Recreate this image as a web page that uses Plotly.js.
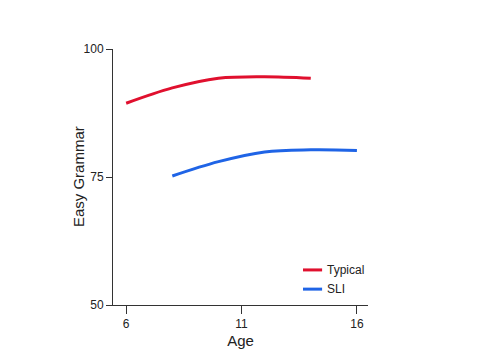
<!DOCTYPE html>
<html>
<head>
<meta charset="utf-8">
<script src="https://cdn.plot.ly/plotly-3.0.1.min.js"></script>
<style>html,body{margin:0;padding:0;background:#fff;}#chart{width:485px;height:360px;}</style>
</head>
<body>
<div id="chart"></div>
<script>
const typicalAge = [6, 8, 10, 12, 14];
const typicalScore = [89.4, 92.4, 94.3, 94.6, 94.3];
const sliAge = [8, 10, 12, 14, 16];
const sliScore = [75.2, 78.0, 79.9, 80.3, 80.2];
const xTicks = [6, 11, 16];
const yTicks = [50, 75, 100];
const seriesNames = ["Typical", "SLI"];
const seriesColors = ['#e0102e', '#1f64e6'];

const traces = [
  {x: typicalAge, y: typicalScore, name: seriesNames[0], type: 'scatter', mode: 'lines',
   line: {color: seriesColors[0], width: 3, shape: 'spline', smoothing: 1}},
  {x: sliAge, y: sliScore, name: seriesNames[1], type: 'scatter', mode: 'lines',
   line: {color: seriesColors[1], width: 3, shape: 'spline', smoothing: 1}}
];

// custom legend (short line samples like the reference)
const legY = [0.137, 0.062];
const shapes = seriesNames.map((n, i) => ({type: 'line', xref: 'paper', yref: 'paper',
  x0: 0.745, x1: 0.82, y0: legY[i], y1: legY[i], line: {color: seriesColors[i], width: 3}}));
const annotations = seriesNames.map((n, i) => ({xref: 'paper', yref: 'paper', x: 0.832, y: legY[i],
  xanchor: 'left', yanchor: 'middle', text: n, showarrow: false, font: {size: 12, color: '#222'}}));
// y axis title
annotations.push({xref: 'paper', yref: 'paper', x: -0.137, y: 0.5, xanchor: 'center', yanchor: 'middle',
  text: 'Easy Grammar', textangle: -90, showarrow: false, font: {size: 15, color: '#222'}});

const layout = {
  width: 485, height: 360,
  margin: {l: 113, r: 117, t: 49, b: 55},
  paper_bgcolor: '#fff', plot_bgcolor: '#fff',
  font: {family: 'Liberation Sans, Arial, sans-serif', color: '#222', size: 12},
  showlegend: false,
  shapes: shapes,
  annotations: annotations,
  xaxis: {range: [5.43, 16.48], tickvals: xTicks, ticktext: xTicks.map(String),
          showline: true, linecolor: '#333', linewidth: 1, ticks: 'outside', ticklen: 8,
          tickcolor: '#333', showgrid: false, zeroline: false, tickfont: {size: 12, color: '#222'},
          title: {text: 'Age', font: {size: 15}, standoff: 5}},
  yaxis: {range: [50, 100], tickvals: yTicks, ticktext: yTicks.map(String),
          showline: true, linecolor: '#333', linewidth: 1, ticks: 'outside', ticklen: 6,
          tickcolor: '#333', showgrid: false, zeroline: false, tickfont: {size: 12, color: '#222'}}
};
Plotly.newPlot('chart', traces, layout, {displayModeBar: false, staticPlot: true});
</script>
</body>
</html>
